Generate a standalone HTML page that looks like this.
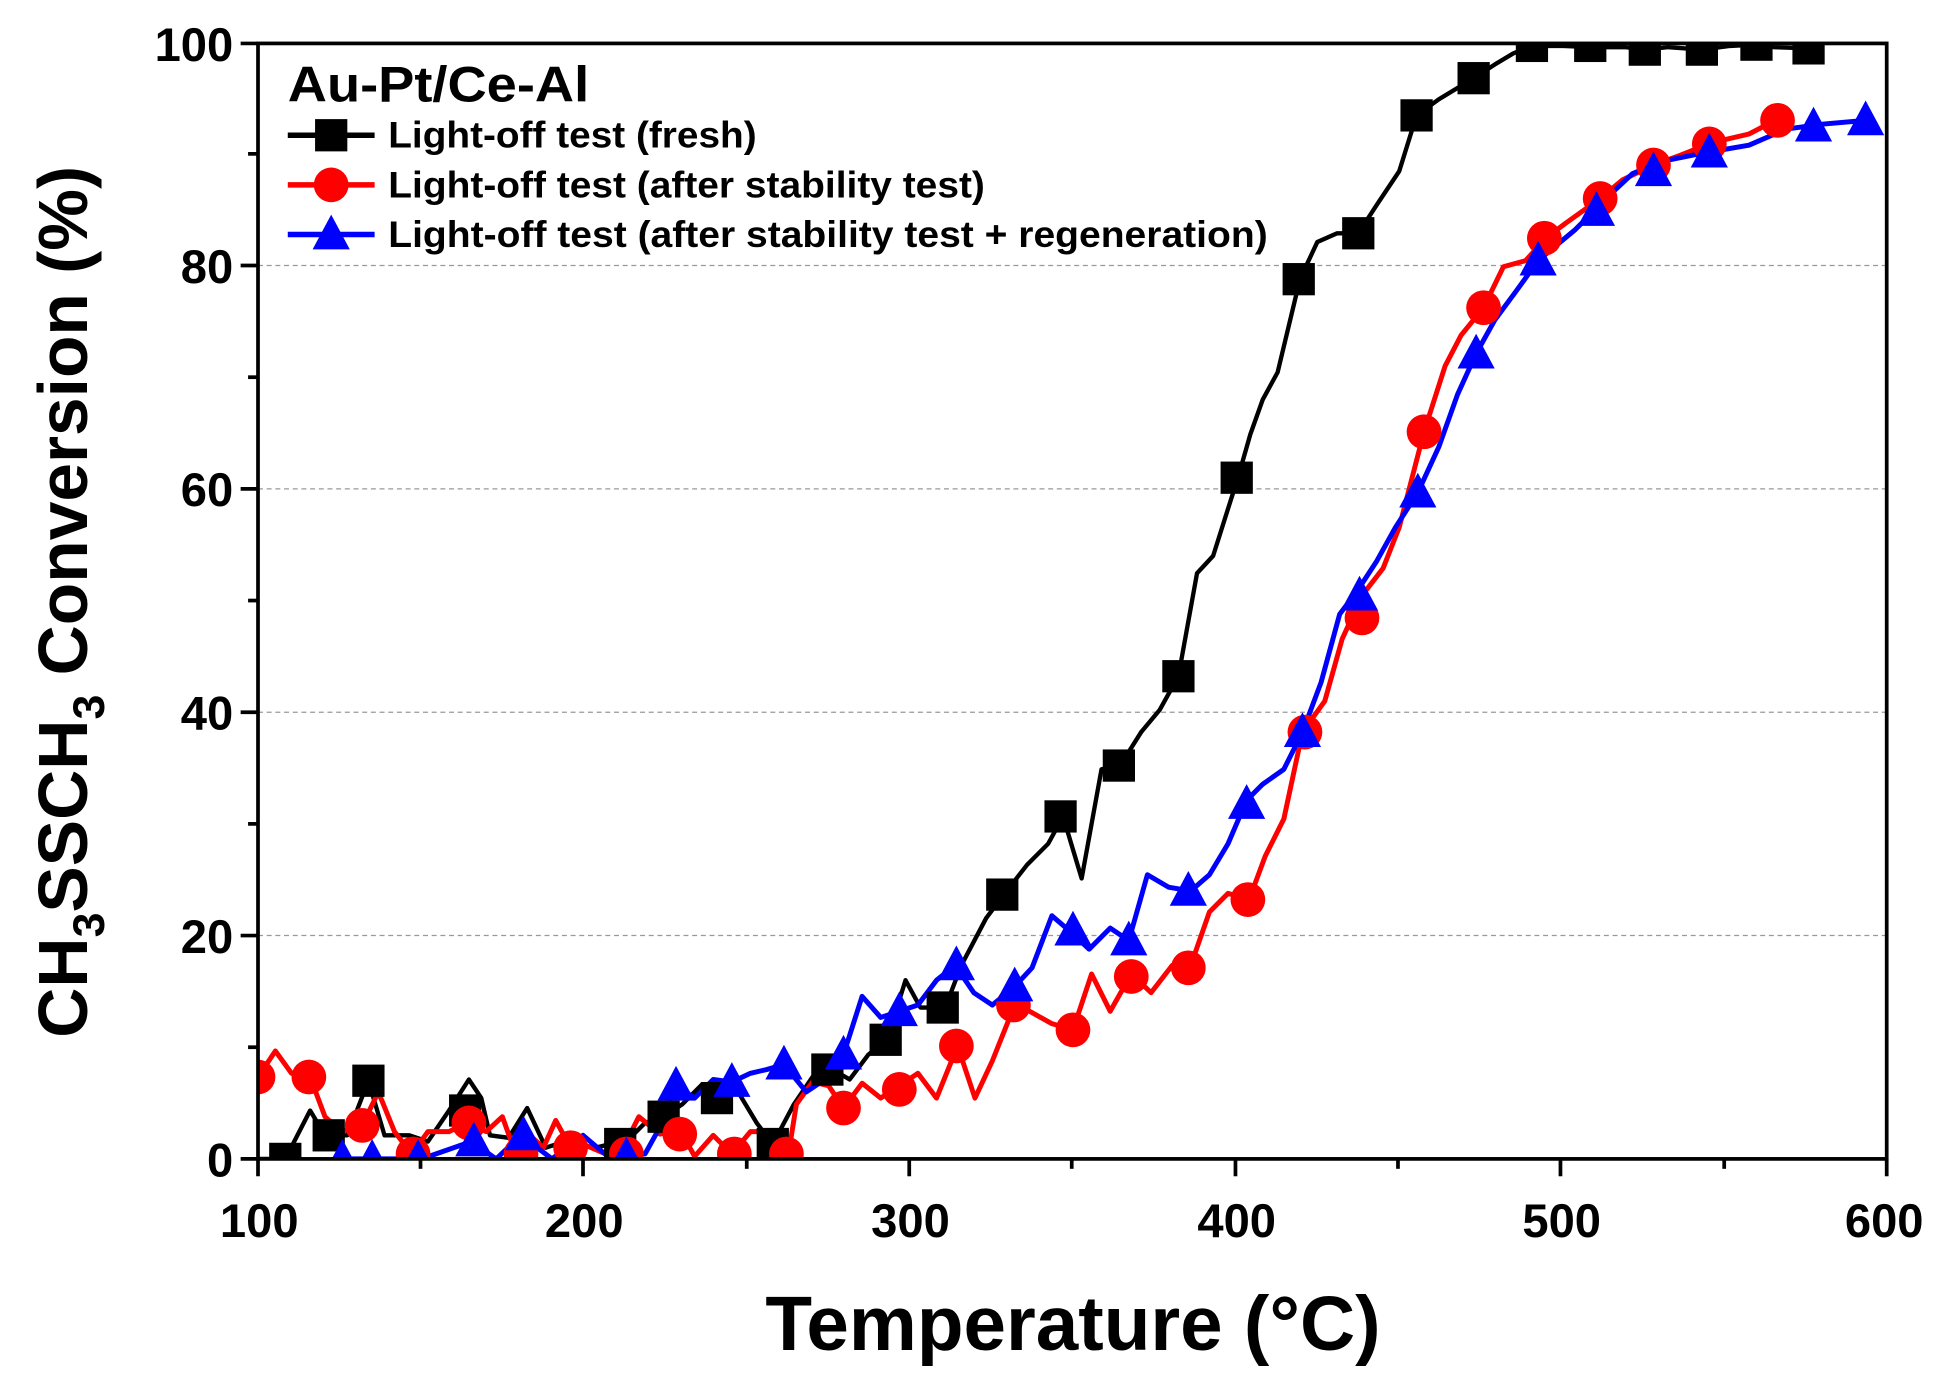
<!DOCTYPE html>
<html><head><meta charset="utf-8"><style>html,body{margin:0;padding:0;background:#fff}svg{display:block}</style></head>
<body>
<svg width="1945" height="1381" viewBox="0 0 1568 1113" preserveAspectRatio="none" xmlns="http://www.w3.org/2000/svg" font-family="'Liberation Sans', Arial, sans-serif" font-weight="bold">
<defs>
<clipPath id="c"><rect x="208" y="35" width="1313" height="899"/></clipPath>
<rect id="sq" x="-13" y="-13" width="26" height="26" fill="#000"/>
<ellipse id="ci" cx="0" cy="0" rx="14" ry="14" fill="#f00"/>
<polygon id="tr" points="0,-16 15,12 -15,12" fill="#00f"/>
</defs>
<g stroke="#999" stroke-width="1" stroke-dasharray="4,3">
<line x1="208" x2="1521" y1="754" y2="754"/><line x1="208" x2="1521" y1="574" y2="574"/>
<line x1="208" x2="1521" y1="394" y2="394"/><line x1="208" x2="1521" y1="214" y2="214"/>
</g>
<g clip-path="url(#c)">
<polyline fill="none" stroke="#000" stroke-width="3.5" stroke-linejoin="round" points="208,934 230,934 250,895 262,915 280,915 297,871 310,915 330,915 345,920 362,895 378,870 388,885 395,915 410,917 425,893 440,925 455,920 480,925 492,922 505,920 520,905 535,900 550,890 566,874 578,885 595,880 610,905 623,922 640,890 655,868 668,860 685,870 700,850 715,838 730,790 742,812 762,812 775,778 795,740 810,720 828,697 845,680 857,658 872,708 888,620 903,617 920,590 935,572 950,545 965,462 978,448 990,410 998,385 1008,350 1018,322 1030,300 1048,225 1062,195 1078,188 1095,188 1110,165 1128,138 1142,93 1160,80 1188,63 1205,52 1220,43 1235,37 1260,37 1285,38 1310,38 1326,40 1345,38 1372,40 1395,37 1414,36 1430,38 1458,39"/>
<polyline fill="none" stroke="#f00" stroke-width="4" stroke-linejoin="round" points="208,868 222,847 235,865 250,868 262,900 275,912 292,907 305,880 318,912 332,930 345,912 362,912 376,905 392,912 405,900 415,928 425,913 438,925 448,903 460,925 472,923 486,929 500,930 515,900 532,914 548,910 560,932 575,915 590,930 605,912 620,912 635,934 642,890 655,872 668,875 680,893 695,873 710,885 725,875 740,865 755,885 772,843 786,885 800,855 818,810 830,815 848,825 865,830 880,785 895,815 912,785 928,800 945,778 960,778 975,735 990,720 1007,725 1020,690 1035,660 1050,590 1068,565 1082,515 1098,480 1115,458 1128,425 1148,348 1165,295 1178,270 1196,248 1212,215 1230,210 1246,192 1262,180 1290,160 1308,145 1333,133 1355,125 1380,115 1410,108 1433,96"/>
<polyline fill="none" stroke="#00f" stroke-width="4" stroke-linejoin="round" points="275,934 300,934 340,934 380,920 400,934 420,915 445,934 470,915 490,932 520,930 530,912 545,875 560,885 575,870 590,872 605,865 618,862 632,858 650,880 665,870 680,850 695,803 710,820 725,815 740,810 755,790 770,778 785,800 800,810 818,795 832,780 848,738 862,750 878,765 895,748 910,758 925,705 942,715 960,718 975,705 990,680 1005,645 1018,632 1035,620 1050,590 1065,550 1080,495 1095,475 1110,452 1125,425 1143,397 1160,360 1175,318 1190,285 1205,258 1222,235 1240,210 1258,195 1270,185 1285,170 1300,155 1316,140 1340,130 1375,123 1410,117 1440,104 1470,100 1504,97"/>
<g>
<use href="#sq" x="230" y="934"/><use href="#sq" x="265" y="915"/><use href="#sq" x="297" y="871"/><use href="#sq" x="375" y="895"/><use href="#sq" x="500" y="922"/><use href="#sq" x="535" y="900"/><use href="#sq" x="578" y="885"/><use href="#sq" x="623" y="922"/><use href="#sq" x="667" y="862"/><use href="#sq" x="714" y="838"/><use href="#sq" x="760" y="812"/><use href="#sq" x="808" y="721"/><use href="#sq" x="855" y="658"/><use href="#sq" x="902" y="617"/><use href="#sq" x="950" y="545"/><use href="#sq" x="997" y="385"/><use href="#sq" x="1047" y="225"/><use href="#sq" x="1095" y="188"/><use href="#sq" x="1142" y="93"/><use href="#sq" x="1188" y="63"/><use href="#sq" x="1235" y="37"/><use href="#sq" x="1282" y="37"/><use href="#sq" x="1326" y="40"/><use href="#sq" x="1372" y="40"/><use href="#sq" x="1416" y="36"/><use href="#sq" x="1458" y="39"/>
</g>
<g>
<use href="#ci" x="208" y="868"/><use href="#ci" x="249" y="868"/><use href="#ci" x="292" y="907"/><use href="#ci" x="333" y="930"/><use href="#ci" x="378" y="905"/><use href="#ci" x="420" y="930"/><use href="#ci" x="460" y="925"/><use href="#ci" x="505" y="930"/><use href="#ci" x="548" y="914"/><use href="#ci" x="592" y="930"/><use href="#ci" x="634" y="930"/><use href="#ci" x="680" y="893"/><use href="#ci" x="725" y="878"/><use href="#ci" x="771" y="843"/><use href="#ci" x="817" y="810"/><use href="#ci" x="865" y="830"/><use href="#ci" x="912" y="787"/><use href="#ci" x="958" y="780"/><use href="#ci" x="1006" y="725"/><use href="#ci" x="1052" y="590"/><use href="#ci" x="1098" y="498"/><use href="#ci" x="1148" y="348"/><use href="#ci" x="1196" y="248"/><use href="#ci" x="1245" y="192"/><use href="#ci" x="1290" y="160"/><use href="#ci" x="1333" y="133"/><use href="#ci" x="1378" y="116"/><use href="#ci" x="1433" y="97"/>
</g>
<g>
<use href="#tr" x="276" y="934"/><use href="#tr" x="300" y="934"/><use href="#tr" x="337" y="934"/><use href="#tr" x="382" y="920"/><use href="#tr" x="422" y="915"/><use href="#tr" x="505" y="932"/><use href="#tr" x="545" y="875"/><use href="#tr" x="590" y="872"/><use href="#tr" x="632" y="858"/><use href="#tr" x="680" y="850"/><use href="#tr" x="725" y="815"/><use href="#tr" x="771" y="778"/><use href="#tr" x="818" y="795"/><use href="#tr" x="865" y="750"/><use href="#tr" x="910" y="758"/><use href="#tr" x="958" y="718"/><use href="#tr" x="1005" y="648"/><use href="#tr" x="1050" y="590"/><use href="#tr" x="1096" y="480"/><use href="#tr" x="1143" y="397"/><use href="#tr" x="1190" y="285"/><use href="#tr" x="1240" y="210"/><use href="#tr" x="1287" y="170"/><use href="#tr" x="1333" y="138"/><use href="#tr" x="1378" y="123"/><use href="#tr" x="1462" y="102"/><use href="#tr" x="1504" y="97"/>
</g>
</g>
<rect x="208" y="35" width="1313" height="899" fill="none" stroke="#000" stroke-width="3"/>
<g stroke="#000" stroke-width="3">
<line x1="208" y1="934" x2="208" y2="948"/><line x1="339" y1="934" x2="339" y2="942"/>
<line x1="470" y1="934" x2="470" y2="948"/><line x1="602" y1="934" x2="602" y2="942"/>
<line x1="733" y1="934" x2="733" y2="948"/><line x1="864" y1="934" x2="864" y2="942"/>
<line x1="996" y1="934" x2="996" y2="948"/><line x1="1127" y1="934" x2="1127" y2="942"/>
<line x1="1258" y1="934" x2="1258" y2="948"/><line x1="1390" y1="934" x2="1390" y2="942"/>
<line x1="1521" y1="934" x2="1521" y2="948"/>
<line x1="194" y1="934" x2="208" y2="934"/><line x1="200" y1="844" x2="208" y2="844"/>
<line x1="194" y1="754" x2="208" y2="754"/><line x1="200" y1="664" x2="208" y2="664"/>
<line x1="194" y1="574" x2="208" y2="574"/><line x1="200" y1="484" x2="208" y2="484"/>
<line x1="194" y1="394" x2="208" y2="394"/><line x1="200" y1="304" x2="208" y2="304"/>
<line x1="194" y1="214" x2="208" y2="214"/><line x1="200" y1="124" x2="208" y2="124"/>
<line x1="194" y1="35" x2="208" y2="35"/>
</g>
<g font-size="38" text-anchor="end">
<text x="188" y="948">0</text><text x="188" y="768">20</text><text x="188" y="588">40</text>
<text x="188" y="408">60</text><text x="188" y="228">80</text><text x="188" y="49">100</text>
</g>
<g font-size="38" text-anchor="middle">
<text x="209" y="997">100</text><text x="471" y="997">200</text><text x="734" y="997">300</text>
<text x="997" y="997">400</text><text x="1259" y="997">500</text><text x="1519" y="997">600</text>
</g>
<text x="617" y="1088" font-size="62" textLength="496" lengthAdjust="spacingAndGlyphs">Temperature (°C)</text>
<text transform="translate(70,485) rotate(-90)" font-size="56" text-anchor="middle">CH<tspan font-size="36" dy="14">3</tspan><tspan dy="-14">SSCH</tspan><tspan font-size="36" dy="14">3</tspan><tspan dy="-14"> Conversion (%)</tspan></text>
<text x="232" y="82" font-size="40" textLength="243" lengthAdjust="spacingAndGlyphs">Au-Pt/Ce-Al</text>
<g font-size="30" fill="#000">
<line x1="232" y1="109" x2="302" y2="109" stroke="#000" stroke-width="4.5"/><use href="#sq" x="267" y="109"/>
<text x="313" y="119" textLength="297" lengthAdjust="spacingAndGlyphs">Light-off test (fresh)</text>
<line x1="232" y1="149" x2="302" y2="149" stroke="#f00" stroke-width="4.5"/><use href="#ci" x="267" y="149"/>
<text x="313" y="159" textLength="481" lengthAdjust="spacingAndGlyphs">Light-off test (after stability test)</text>
<line x1="232" y1="189" x2="302" y2="189" stroke="#00f" stroke-width="4.5"/><use href="#tr" x="267" y="189"/>
<text x="313" y="199" textLength="709" lengthAdjust="spacingAndGlyphs">Light-off test (after stability test + regeneration)</text>
</g>
</svg>
</body></html>
